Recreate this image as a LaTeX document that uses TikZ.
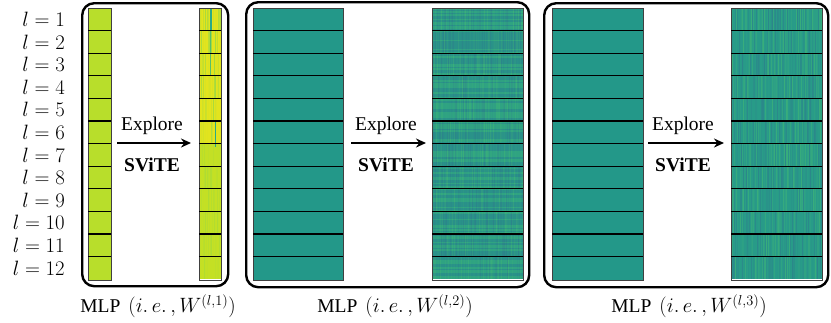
\documentclass[tikz,border=0pt]{standalone}
\usepackage{fontspec}
\setmainfont{Liberation Serif}
\usetikzlibrary{arrows.meta}
\definecolor{vyg}{RGB}{184,222,43}
\definecolor{vyel}{RGB}{226,228,30}
\definecolor{vylg}{RGB}{196,224,36}
\definecolor{vgrn}{RGB}{130,212,80}
\definecolor{vteal}{RGB}{35,152,137}
\definecolor{vtealB}{RGB}{40,155,136}
\definecolor{vblue}{RGB}{48,104,142}
\definecolor{vlgreen}{RGB}{80,200,105}
\definecolor{vcyan}{RGB}{40,170,135}
\tikzset{
  panelbox/.style={draw=black, line width=2.4pt, rounded corners=12pt, minimum height=283, anchor=north west, inner sep=0},
  stripbox/.style={draw=black!75, line width=0.6pt, minimum height=271.5, anchor=north west, inner sep=0},
  rowline/.style={line width=1.3pt, black},
  lbl/.style={font=\fontsize{19.5}{22}\selectfont, inner sep=0},
  explorearrow/.style={-{Stealth[length=10pt,width=9pt]}, line width=1.8pt},
}
\newcommand\myrows[2]{\foreach \k in {1,...,11}{\draw[rowline] (#1,{8+\k*22.6}) -- ++(#2,0);}}
\newcommand\mystreaks[3]{% x0, ncols (1pt each), strength
  \foreach \r in {0,...,11}{%
    \foreach \c in {0,...,#2}{%
      \pgfmathsetmacro\q{rnd}%
      \pgfmathsetmacro\p{int(100*abs(2*\q-1)^2*#3)}%
      \ifdim\q pt<0.5pt \def\cc{vblue}\else\def\cc{vlgreen}\fi
      \fill[\cc!\p!vtealB] ({#1+\c},{8+\r*22.6}) rectangle ++(1.3,22.6);
    }%
  }%
}
\begin{document}
\begin{tikzpicture}[x=1pt,y=-1pt]
\useasboundingbox (0,0) rectangle (831,322);
\pgfmathsetseed{12345}
% ---------- panel boxes
\node[panelbox, minimum width=146] (p1) at (81,2) {};
\node[panelbox, minimum width=283, minimum height=285] (p2) at (245,1) {};
\node[panelbox, minimum width=284, minimum height=284] (p3) at (543,2) {};
% ---------- panel 1 strips
\fill[vyg] (88,8) rectangle (111,279.5);
\foreach \r in {0,...,5}{\foreach \c in {0,...,21}{%
  \pgfmathsetmacro\p{int(70*rnd^4)}%
  \fill[vgrn!\p!vyel] ({199+\c},{8+\r*22.6}) rectangle ++(1.3,22.6);}}
\foreach \r in {6,...,11}{\foreach \c in {0,...,21}{%
  \pgfmathsetmacro\p{int(35*rnd^4)}%
  \fill[vgrn!\p!vylg] ({199+\c},{8+\r*22.6}) rectangle ++(1.3,22.6);}}
\fill[vcyan] (209.5,8) rectangle ++(2,22.6);
\fill[vcyan!50!vgrn] (210,30.6) rectangle ++(1.4,45);
\fill[vcyan] (214.5,121.4) rectangle ++(1.3,26);
\node[stripbox, minimum width=23] (s1a) at (88,8) {};
\node[stripbox, minimum width=22] (s1b) at (199,8) {};
\myrows{88}{23}
\myrows{199}{22}
% ---------- panel 2 strips
\fill[vteal] (253,8) rectangle (343,279.5);
\mystreaks{432}{90}{0.32}
\foreach \r in {0,...,11}{\foreach \j in {0,...,14}{%
  \pgfmathsetmacro\q{rnd}%
  \ifdim\q pt<0.5pt \def\cc{vblue}\else\def\cc{vlgreen}\fi
  \draw[\cc, opacity=0.18, line width=1.5pt] (432,{8+\r*22.6+0.75+\j*1.5}) -- ++(91,0);}}
\node[stripbox, minimum width=90] (s2a) at (253,8) {};
\node[stripbox, minimum width=91] (s2b) at (432,8) {};
\myrows{253}{90}
\myrows{432}{91}
% ---------- panel 3 strips
\fill[vteal] (552,8) rectangle (643,279.5);
\mystreaks{731}{90}{0.42}
\node[stripbox, minimum width=91] (s3a) at (552,8) {};
\node[stripbox, minimum width=91] (s3b) at (731,8) {};
\myrows{552}{91}
\myrows{731}{91}
% ---------- layer labels
\foreach \k in {1,...,12}{\node[lbl, anchor=east] (l\k) at (65,{8+(\k-0.5)*22.6}) {$l=\k$};}
% ---------- arrows
\coordinate (a1s) at (117,143); \coordinate (a1e) at (191,143);
\coordinate (a2s) at (351,143); \coordinate (a2e) at (426,143);
\coordinate (a3s) at (648,143); \coordinate (a3e) at (724,143);
\draw[explorearrow] (a1s) -- (a1e);
\draw[explorearrow] (a2s) -- (a2e);
\draw[explorearrow] (a3s) -- (a3e);
\node[lbl] (e1) at (152,126) {Explore};
\node[lbl] (e2) at (386,126) {Explore};
\node[lbl] (e3) at (683,126) {Explore};
\node[lbl, font=\fontsize{19.5}{22}\selectfont\bfseries] (v1) at (152,165) {SViTE};
\node[lbl, font=\fontsize{19.5}{22}\selectfont\bfseries] (v2) at (386,165) {SViTE};
\node[lbl, font=\fontsize{19.5}{22}\selectfont\bfseries] (v3) at (683,165) {SViTE};
% ---------- captions
\node[lbl] (m1) at (158,306) {MLP\, $(i.\,e.\,,W^{(l,1)})$};
\node[lbl] (m2) at (395,306) {MLP\, $(i.\,e.\,,W^{(l,2)})$};
\node[lbl] (m3) at (689,306) {MLP\, $(i.\,e.\,,W^{(l,3)})$};
\end{tikzpicture}
\end{document}
